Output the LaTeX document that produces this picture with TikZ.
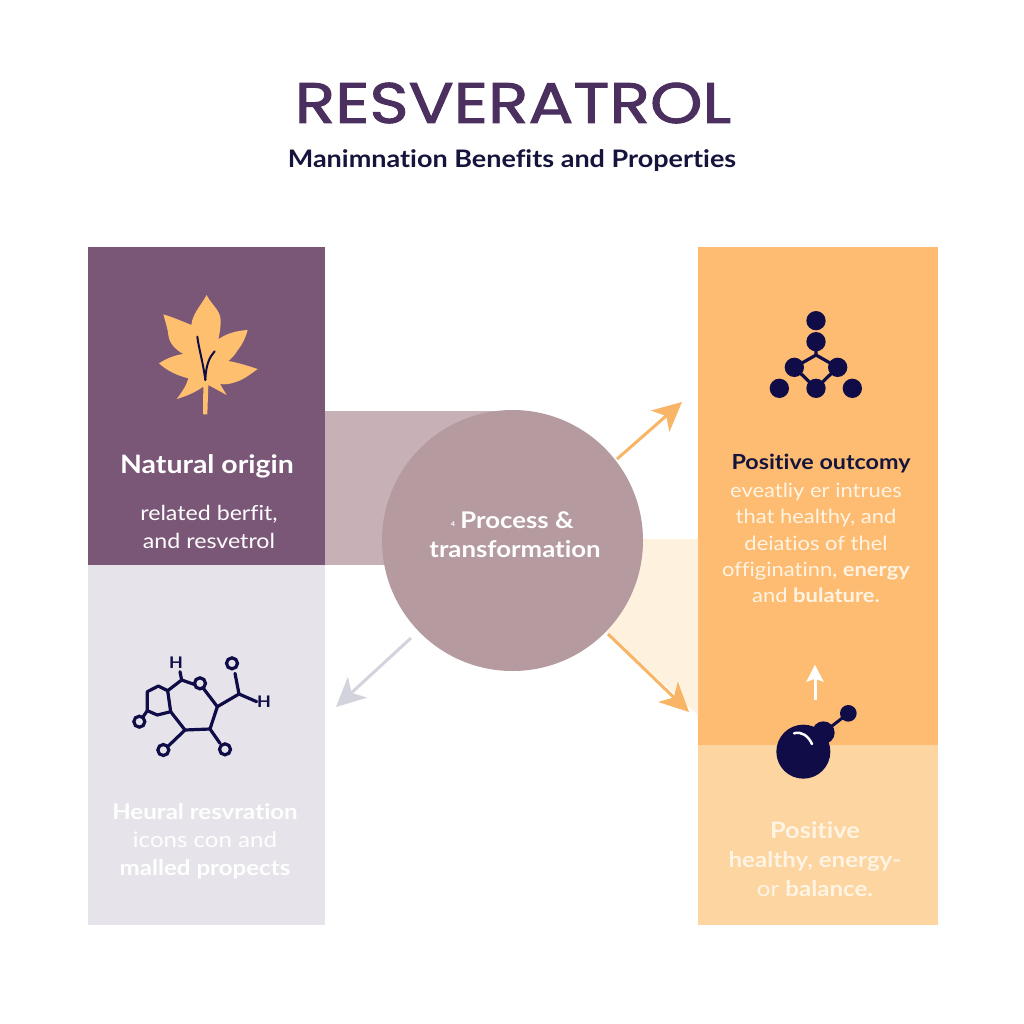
\documentclass[tikz,border=0pt]{standalone}
\usepackage{fontspec}
\setmainfont[FakeStretch=1.12,Ligatures=NoCommon]{Lato}
\newfontfamily\titlefont[FakeBold=1.7,FakeStretch=1.17]{Poppins}
\usetikzlibrary{arrows.meta}
\definecolor{plum}{HTML}{7A5677}
\definecolor{greyp}{HTML}{E6E4EA}
\definecolor{orangep}{HTML}{FDBC72}
\definecolor{peach}{HTML}{FCD5A0}
\definecolor{leafc}{HTML}{FEC06F}
\definecolor{bandp}{HTML}{C8B1B6}
\definecolor{circ}{HTML}{B59A9F}
\definecolor{pale}{HTML}{FEF2DF}
\definecolor{navy}{HTML}{14143C}
\definecolor{iconc}{HTML}{0F0C48}
\definecolor{titlec}{HTML}{4B2F5F}
\definecolor{arrowo}{HTML}{F9B566}
\definecolor{arrowg}{HTML}{D3D3DD}
\definecolor{creamt}{HTML}{FFF4E4}
\tikzset{
 x=1pt,y=-1pt,
 flow/.style={line width=3pt,-{Stealth[length=29pt,width=28pt,inset=8pt]}},
 bond/.style={draw=iconc,line width=3.2pt,line cap=round,line join=round},
 atom/.style={circle,draw=iconc,line width=3.2pt,fill=none,inner sep=0pt,minimum size=11pt},
 atomlabel/.style={font=\bfseries\fontsize{16}{16}\selectfont,text=iconc,inner sep=0pt},
}
\begin{document}
\begin{tikzpicture}
\useasboundingbox (0,0) rectangle (1024,1024);
\fill[white] (0,0) rectangle (1024,1024);
% panels
\fill[plum] (88,247) rectangle (325,565);
\fill[greyp] (88,565) rectangle (325,925);
\fill[orangep] (698,247) rectangle (938,745);
\fill[peach] (698,745) rectangle (938,925);
\fill[bandp] (325,411) rectangle (500,565);
\fill[pale] (620,539) -- (698,539) -- (698,715) -- (607,633) -- cycle;
% circle
\node[circle,fill=circ,minimum size=261pt,inner sep=0pt] (hub) at (512.5,540.5) {};
% arrows
\coordinate (upS) at (617,459); \coordinate (upE) at (682,402);
\coordinate (dnS) at (608,634); \coordinate (dnE) at (689,712);
\coordinate (lfS) at (411,638); \coordinate (lfE) at (336,707);
\draw[flow,arrowo] (upS) -- (upE);
\draw[flow,arrowo] (dnS) -- (dnE);
\draw[flow,arrowg] (lfS) -- (lfE);
% title
\node[font=\titlefont\fontsize{57}{60}\selectfont,text=titlec,inner sep=0pt] (title) at (513,103) {RESVERATROL};
\node[font=\bfseries\fontsize{24.1}{26}\selectfont,text=navy,inner sep=0pt] (sub) at (512,161) {Manimnation Benefits and Properties};
% leaf
\begin{scope}[shift={(120,280)},scale=1/3]
\fill[leafc] (260,45) .. controls (272,72) and (302,90) .. (302,122) .. controls (302,145) and (298,165) .. (295,178)
 .. controls (320,160) and (350,152) .. (383,150) .. controls (375,180) and (362,200) .. (352,212) .. controls (345,225) and (335,235) .. (325,243)
 .. controls (355,248) and (385,258) .. (413,267) .. controls (392,282) and (372,298) .. (350,305) .. controls (330,313) and (315,314) .. (300,312)
 -- (320,345) -- (265,315) -- (262,403) -- (249,403) -- (250,320)
 .. controls (225,338) and (195,350) .. (170,357) .. controls (187,335) and (200,315) .. (205,295)
 .. controls (175,288) and (140,272) .. (117,250) .. controls (140,235) and (165,225) .. (190,222)
 .. controls (165,208) and (148,190) .. (145,165) .. controls (142,140) and (135,122) .. (130,103)
 .. controls (160,112) and (190,125) .. (214,135) .. controls (218,100) and (242,78) .. (260,45) -- cycle;
\draw[iconc,line width=2pt,line cap=round] (232,170) .. controls (236,205) and (248,240) .. (256,300);
\draw[iconc,line width=2pt,line cap=round] (284,214) .. controls (270,230) and (258,250) .. (256,300);
\end{scope}
% molecule on grey panel
\begin{scope}[shift={(120,640)},scale=1/3]
\draw[bond] (143,152) -- (115,138) -- (82,155) -- (82,212) -- (112,225) -- (152,215) -- cycle;
\draw[bond] (143,152) -- (185,120) -- (222,133);
\draw[bond] (185,120) -- (180,95);
\draw[bond] (250,145) -- (292,200) -- (270,267) -- (195,270) -- (152,215);
\draw[bond] (292,200) -- (357,162) -- (410,185);
\draw[bond] (357,162) -- (345,100);
\draw[bond] (195,270) -- (145,318);
\draw[bond] (270,267) -- (300,310);
\draw[bond] (82,212) -- (68,232);
\node[atom] (o1) at (240,130) {};
\node[atom] (o2) at (336,70) {};
\node[atom] (o3) at (130,330) {};
\node[atom] (o4) at (315,328) {};
\node[atom] (o5) at (58,245) {};
\node[atomlabel] (h1) at (168,68) {H};
\node[atomlabel] (h2) at (432,184) {H};
\end{scope}
% cluster icon
\begin{scope}[shift={(740,300)},scale=1/3]
\draw[bond] (228,125) -- (228,165) -- (163,202) -- (228,265) -- (293,202) -- (228,165);
\foreach \p in {(228,62),(228,125),(163,202),(293,202),(228,265),(118,265),(337,265)}
  \fill[iconc] \p circle (29);
\end{scope}
% sphere icon
\begin{scope}[shift={(740,650)},scale=1/3]
\draw[white,line width=3pt,-{Stealth[length=17pt,width=17pt,inset=3pt]}] (225,150) -- (225,44);
\draw[iconc,line width=3pt] (250,248) -- (325,190);
\fill[iconc] (190,305) circle (81);
\fill[iconc] (250,248) circle (34);
\fill[iconc] (325,190) circle (25);
\draw[white,line width=2.5pt,line cap=round] (162,250) .. controls (185,243) and (205,258) .. (216,282);
\end{scope}
% texts
\node[font=\bfseries\fontsize{25.4}{28}\selectfont,text=white,inner sep=0pt] (t1) at (207,466) {Natural origin};
\node[font=\fontsize{20.7}{28}\selectfont,text=white,align=center,inner sep=0pt] (t2) at (209,527) {related berfit,\\and resvetrol};
\node[font=\bfseries\fontsize{23}{29}\selectfont,text=white,align=center,inner sep=0pt] (t3) at (515,534.5) {\hspace*{4pt}Process \&\\transformation};
\node[font=\bfseries\fontsize{6.5}{6.5}\selectfont,text=white,inner sep=0pt] (t3b) at (453,524) {4};
\node[font=\bfseries\fontsize{20.8}{24}\selectfont,text=navy,inner sep=0pt] (t4) at (821,464) {Positive outcomy};
\node[font=\fontsize{19.6}{26.2}\selectfont,text=creamt,align=center,inner sep=0pt] (t5) at (816,543) {eveatliy er intrues\\that healthy, and\\deiatios of thel\\offiginatinn, \textbf{energy}\\and \textbf{bulature.}};
\node[font=\bfseries\fontsize{22.7}{26}\selectfont,text=creamt,inner sep=0pt] (t6) at (815,830) {Positive};
\node[font=\fontsize{21.5}{29}\selectfont,text=creamt,align=center,inner sep=0pt] (t7) at (815,874) {\textbf{healthy, energy-}\\or \textbf{balance.}};
\node[font=\bfseries\fontsize{21.5}{28}\selectfont,text=white!96!greyp,align=center,inner sep=0pt] (t8) at (205,841) {Heural resvration\\\mdseries icons con and\\\bfseries malled propects};
\end{tikzpicture}
\end{document}
